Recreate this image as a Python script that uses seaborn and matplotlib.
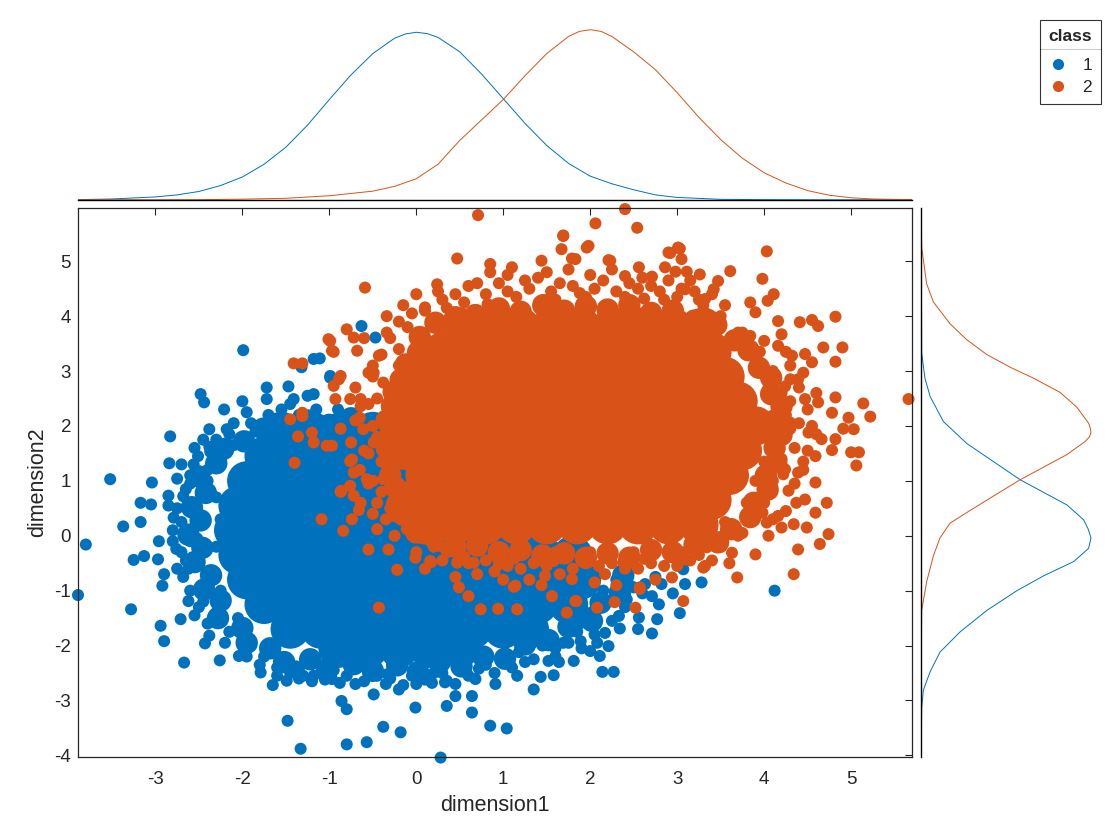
import matplotlib
matplotlib.use("Agg")
import matplotlib.pyplot as plt
from matplotlib.lines import Line2D
import seaborn as sns
import pandas as pd

# colours used by the original figure
blue = "#0072BD"
orange = "#D95319"

# ---- class 1: dense core (rows of y, x positions), its edge, scattered points ----
blue_core_rows = [
    (1.9, [-1.55, -1.2, -0.85, -0.5, -0.15, 0.2]),
    (1.45, [-1.75, -1.40, -1.05, -0.70, -0.35, 0.0, 0.35]),
    (1.0, [-1.95, -1.60, -1.25, -0.90, -0.55, -0.20, 0.15, 0.50]),
    (0.55, [-2.05, -1.70, -1.35, -1.00, -0.65, -0.30, 0.05, 0.40, 0.75]),
    (0.1, [-2.10, -1.75, -1.40, -1.05, -0.70, -0.35, 0.0, 0.35, 0.70, 1.05, 1.40]),
    (-0.35, [-2.05, -1.70, -1.35, -1.00, -0.65, -0.30, 0.05, 0.40, 0.75, 1.10, 1.45, 1.80]),
    (-0.8, [-1.95, -1.60, -1.25, -0.90, -0.55, -0.20, 0.15, 0.50, 0.85, 1.20, 1.55, 1.90]),
    (-1.25, [-1.75, -1.40, -1.05, -0.70, -0.35, 0.0, 0.35, 0.70, 1.05, 1.40, 1.75]),
    (-1.7, [-1.45, -1.10, -0.75, -0.40, -0.05, 0.30, 0.65, 1.00, 1.30]),
    (-2.05, [-0.9, -0.55, -0.2, 0.15, 0.5]),
]

blue_edge = [
    (-2.3, 1.32), (-2.5, 1.08), (-2.42, 0.78), (-2.58, 0.52), (-2.48, 0.28),
    (-2.62, 0.02), (-2.46, -0.22), (-2.55, -0.48), (-2.36, -0.72), (-2.44, -0.98),
    (-2.25, -1.18), (-2.28, -1.5), (-2.0, -1.68), (-1.95, -1.95), (-1.68, -2.05),
    (-1.52, -2.3), (-1.22, -2.25), (-1.02, -2.42), (-0.72, -2.34), (-0.5, -2.46),
    (-0.22, -2.36), (0.02, -2.48), (0.27, -2.3), (0.52, -2.38), (0.77, -2.2),
    (1.02, -2.24), (1.25, -1.98), (1.52, -1.9), (1.75, -1.66), (2.02, -1.55),
    (2.12, -1.22), (2.34, -1.04), (2.38, -0.72), (-2.22, 1.58), (-1.98, 1.72),
    (-1.76, 1.95), (-1.5, 1.98), (-1.25, 2.1), (-1.0, 2.02), (-0.75, 2.14),
]

blue_pts = [
    (-3.89, -1.08), (-3.80, -0.16), (-3.52, 1.03), (-3.37, 0.17), (-3.28, -1.34),
    (-3.25, -0.44), (-3.17, 0.60), (-3.17, 0.25), (-3.05, 0.57), (-3.04, 0.97),
    (-3.13, -0.37), (-2.97, -0.43), (-2.96, -0.10), (-2.94, -1.64), (-2.90, -1.92),
    (-2.67, -2.31), (-2.92, -0.91), (-2.83, 1.81), (-2.84, 1.32), (-2.85, 0.73),
    (-2.79, 0.33), (-2.75, 1.04), (-2.71, -1.52), (-2.62, -1.19), (-2.48, 2.58),
    (-2.44, 2.43), (-2.51, 1.45), (-2.56, 1.30), (-2.38, 1.94), (-2.37, 1.53),
    (-2.43, -1.96), (-2.26, -2.27), (-2.21, 2.30), (-2.18, 1.94), (-2.04, -2.19),
    (-1.99, 3.38), (-1.84, 2.00), (-1.72, 2.70), (-1.72, 2.49), (-1.64, 2.13),
    (-1.65, -2.72), (-1.49, -2.64), (-1.47, 2.72), (-1.48, -3.37), (-1.33, -3.88),
    (-1.41, 2.49), (-1.18, 3.22), (-1.11, 3.23), (-0.99, 2.88), (-1.30, -2.55),
    (-1.18, -2.55), (-0.97, -2.61), (-0.86, -3.01), (-0.80, -3.16), (-0.80, -3.80),
    (-0.57, -3.76), (-0.49, -2.89), (-0.38, -3.48), (-0.18, -3.58), (-0.01, -3.13),
    (0.28, -4.04), (0.33, -2.67), (0.35, -3.10), (0.45, -2.92), (0.64, -2.92),
    (0.64, -3.22), (0.85, -3.46), (1.04, -3.51), (0.35, -2.64), (0.68, -2.61),
    (0.91, -2.70), (1.16, -2.55), (1.35, -2.80), (1.43, -2.57), (1.58, -2.54),
    (1.52, -2.28), (1.64, -2.30), (1.81, -2.28), (1.69, -1.95), (1.89, -1.92),
    (2.00, -2.10), (2.11, -2.19), (2.21, -2.01), (2.14, -2.48), (2.27, -2.48),
    (2.08, -1.95), (2.17, -1.77), (2.34, -1.69), (1.87, -1.61), (2.06, -1.61),
    (2.33, -1.46), (2.56, -1.49), (2.71, -1.78), (2.77, -1.52), (2.79, -1.25),
    (2.42, -1.16), (2.50, -0.94), (2.63, -0.88), (2.82, -0.88), (2.71, -1.10),
    (3.03, -1.41), (3.09, -0.88), (3.28, -0.85), (3.07, -0.61), (4.12, -1.00),
    (-0.63, 3.82), (-0.47, 3.61), (-1.32, 3.07), (-0.99, 2.91), (-1.18, 2.58),
    (-2.45, 0.9), (-2.55, 0.4), (-2.6, -0.1), (-2.5, -0.5), (-2.4, -0.8),
    (-2.45, -1.2), (-2.3, -1.4), (-2.15, -1.75), (-1.9, -2.0), (-1.75, -2.2),
    (-1.6, -2.4), (-1.35, -2.45), (-1.1, -2.5), (-0.8, -2.55), (-0.55, -2.5),
    (-0.3, -2.6), (-0.05, -2.55), (0.2, -2.5), (0.5, -2.45), (0.8, -2.35),
    (1.05, -2.2), (1.25, -2.3), (-2.3, 1.4), (-2.1, 1.65), (-1.85, 1.9),
    (-1.6, 2.0), (-1.35, 2.2), (-1.1, 2.1), (-0.9, 2.3), (-2.65, 0.0),
    (-2.75, -0.6), (-2.68, -0.75), (-2.55, -1.45), (-2.4, -1.6), (-2.6, 1.1),
    (-2.4, 1.0), (-2.3, 1.75), (-2.1, 2.05), (-1.9, 2.05), (-1.55, 2.3),
    (-1.25, 2.55), (-1.79, -2.49), (-1.6, -2.55), (-1.35, -2.6), (-1.05, -2.62),
    (-0.6, -2.65), (-0.35, -2.7), (-0.15, -2.72), (0.1, -2.62), (1.45, -2.0),
    (1.7, -1.7), (1.95, -1.4), (2.2, -1.2), (2.3, -0.8), (2.15, -1.0),
    (1.6, -2.05), (1.85, -1.75), (2.05, -1.35), (-2.25, 0.3), (-2.3, -0.2),
    (-2.3, 0.7), (-2.25, -1.0), (-2.05, -1.5), (-2.6, 0.6), (-2.7, 0.25),
    (-2.75, 0.5), (-2.7, -0.3), (-2.8, -0.1), (-2.65, 0.85), (-2.85, 0.55),
    (-2.6, -1.0), (-2.5, -1.3), (-2.8, 0.1), (-2.7, 1.3), (-2.55, 1.6),
    (-2.4, 1.2), (-2.65, -0.45), (-2.9, -0.7), (-1.95, -2.2), (-1.8, -2.35),
    (-1.45, -2.5), (-1.2, -2.65), (-0.95, -2.45), (-0.7, -2.7), (-0.45, -2.55),
    (-0.2, -2.8), (0.0, -2.7), (0.3, -2.5), (0.6, -2.55), (0.9, -2.5),
    (1.1, -2.4), (1.35, -2.25), (0.45, -2.7), (-2.15, 1.85), (-1.95, 2.25),
    (-1.7, 2.2), (-1.45, 2.4), (-1.15, 2.3), (-2.45, 1.75), (-2.0, 2.45),
    (1.6, -2.2), (1.9, -2.05), (2.05, -1.8), (2.25, -1.55), (2.4, -1.3),
    (2.6, -1.05), (2.45, -0.9), (2.75, -0.75), (2.95, -1.05), (2.55, -1.7),
    (1.75, -1.95), (-2.68, 0.72), (-2.52, -0.05), (-2.62, -0.6), (-2.38, -1.82),
    (-2.2, -1.95), (-1.38, -2.38), (-0.88, -2.68), (-0.33, -2.52), (0.18, -2.68),
    (0.72, -2.42), (1.18, -2.12), (-2.38, 1.62), (-2.6, 0.95), (-2.76, -0.24),
]

# ---- class 2 ----
orange_core_rows = [
    (3.8, [0.5, 0.85, 1.20, 1.55, 1.90, 2.25, 2.60, 2.95, 3.3]),
    (3.35, [0.3, 0.65, 1.0, 1.35, 1.7, 2.05, 2.4, 2.75, 3.1, 3.4]),
    (2.9, [0.1, 0.45, 0.8, 1.15, 1.5, 1.85, 2.2, 2.55, 2.9, 3.25, 3.55]),
    (2.45, [-0.1, 0.25, 0.60, 0.95, 1.30, 1.65, 2.00, 2.35, 2.70, 3.05, 3.40, 3.70]),
    (2.0, [-0.2, 0.1, 0.45, 0.8, 1.15, 1.5, 1.85, 2.2, 2.55, 2.9, 3.25, 3.6, 3.9]),
    (1.55, [-0.1, 0.25, 0.60, 0.95, 1.30, 1.65, 2.00, 2.35, 2.70, 3.05, 3.40, 3.75]),
    (1.1, [0.1, 0.45, 0.8, 1.15, 1.5, 1.85, 2.2, 2.55, 2.9, 3.25, 3.6]),
    (0.65, [-0.05, 0.25, 0.60, 0.95, 1.30, 1.65, 2.00, 2.35, 2.70, 3.05, 3.40]),
    (0.2, [0.1, 0.45, 0.8, 1.15, 1.5, 1.85, 2.2, 2.55, 2.9, 3.25]),
]

orange_edge = [
    (0.22, 3.88), (0.45, 3.98), (0.68, 4.02), (0.95, 4.14), (1.2, 4.08),
    (1.46, 4.2), (1.7, 4.1), (1.95, 4.18), (2.2, 4.12), (2.45, 4.2),
    (2.7, 4.06), (2.95, 4.1), (3.2, 3.92), (3.45, 3.84), (3.66, 3.56),
    (3.82, 3.38), (3.94, 3.06), (4.08, 2.88), (4.08, 2.58), (4.2, 2.36),
    (4.12, 2.1), (4.2, 1.84), (4.12, 1.6), (4.14, 1.34), (4.02, 1.1),
    (4.04, 0.84), (3.88, 0.6), (3.84, 0.34), (3.62, 0.12), (3.47, -0.12),
    (3.2, -0.16), (2.95, -0.3), (2.7, -0.26), (2.45, -0.4), (2.2, -0.32),
    (1.95, -0.4), (1.7, -0.32), (1.45, -0.36), (1.2, -0.26), (0.95, -0.3),
    (0.7, -0.18), (0.45, -0.2), (0.2, -0.02), (0.0, 0.06), (-0.15, 0.38),
    (-0.22, 0.58), (-0.24, 0.88), (-0.3, 1.1), (-0.26, 1.36), (-0.34, 1.6),
    (-0.28, 1.84), (-0.34, 2.1), (-0.28, 2.36), (-0.26, 2.62), (-0.18, 2.84),
    (-0.12, 3.12), (0.02, 3.34), (0.04, 3.62),
]

orange_pts = [
    (0.71, 5.84), (2.40, 5.95), (2.54, 5.61), (2.06, 5.69), (1.69, 5.47),
    (1.67, 5.22), (1.96, 5.25), (0.47, 5.05), (3.01, 5.25), (2.92, 5.15),
    (3.05, 5.04), (-0.59, 4.52), (0.85, 4.95), (1.10, 4.89), (1.44, 5.01),
    (1.83, 5.04), (2.23, 5.01), (2.56, 4.89), (2.86, 4.89), (3.26, 4.76),
    (0.24, 4.58), (-0.15, 4.20), (-0.34, 4.00), (0.10, 4.16), (-0.80, 3.76),
    (-1.01, 3.58), (-0.97, 3.37), (-0.72, 3.61), (-1.31, 3.14), (-0.34, 3.70),
    (-0.43, 3.28), (-0.68, 3.37), (-0.89, 2.85), (-0.55, 2.97), (-0.93, 2.49),
    (-0.64, 2.49), (-1.31, 2.24), (-1.20, 1.88), (-0.87, 1.95), (-0.97, 1.64),
    (-0.74, 1.39), (-0.86, 0.82), (-0.72, 0.73), (-1.09, 0.30), (-0.84, 0.09),
    (-0.45, 0.12), (-0.55, -0.25), (-0.32, -0.25), (-0.22, -0.62), (-0.01, -0.40),
    (0.16, -0.46), (-0.43, -1.31), (0.49, -0.94), (0.60, -1.10), (0.74, -1.34),
    (0.94, -1.33), (1.16, -1.34), (0.95, -0.52), (1.14, -0.91), (1.56, -1.10),
    (1.83, -1.19), (2.08, -1.31), (1.73, -1.40), (3.07, -1.19), (3.32, -0.55),
    (2.57, -0.94), (2.52, -1.31), (4.03, 5.18), (3.98, 4.68), (3.61, 4.82),
    (4.11, 4.40), (4.04, 4.28), (3.84, 4.25), (3.90, 4.07), (4.16, 3.91),
    (4.41, 3.89), (4.55, 3.93), (4.62, 3.82), (4.82, 3.99), (4.20, 3.67),
    (4.68, 3.43), (4.90, 3.43), (4.82, 3.17), (4.47, 3.31), (4.55, 3.16),
    (4.39, 2.85), (4.82, 2.52), (5.14, 2.41), (5.22, 2.17), (5.66, 2.49),
    (4.97, 2.15), (5.03, 1.94), (4.91, 1.95), (4.78, 2.24), (4.62, 2.43),
    (4.82, 1.76), (4.78, 1.56), (5.00, 1.52), (5.09, 1.52), (5.06, 1.28),
    (4.59, 1.45), (4.66, 1.76), (4.59, 0.97), (4.72, 0.60), (4.59, 0.42),
    (4.49, 0.15), (4.74, 0.03), (4.64, -0.15), (4.34, 0.21), (4.39, -0.25),
    (4.34, -0.70), (3.90, -0.34), (3.69, -0.76), (3.63, -0.31), (4.03, 0.24),
    (4.16, 0.36), (3.95, 0.70), (4.09, 0.79), (4.28, 0.82), (4.37, 0.60),
    (4.47, 0.66), (4.24, 1.21), (4.39, 1.15), (4.51, 1.88), (4.47, 2.49),
    (4.32, 3.28), (4.45, 2.97), (4.16, 3.46), (3.84, 3.64), (3.47, 4.64),
    (3.42, 4.49), (3.32, 4.31), (3.09, 4.49), (2.90, 5.16), (3.03, 5.23),
    (2.71, 4.72), (2.40, 4.73), (2.98, 4.81), (3.11, 4.81), (2.21, 5.02),
    (1.98, 5.28), (1.79, 5.05), (1.69, 5.46), (-1.41, 3.14), (-1.45, 2.12),
    (-1.31, 2.18), (-1.36, 1.81), (-1.40, 1.33), (-0.99, 3.55), (-0.95, 3.35),
    (-1.18, 1.70), (-1.03, 1.64), (-0.76, 1.36), (-0.87, 0.80), (-0.76, 0.91),
    (-0.66, 0.47), (-0.74, 0.30), (0.17, -0.48), (1.12, -0.93), (1.84, -1.19),
    (2.28, -1.21), (2.57, -0.97), (3.30, -0.58), (3.34, -0.21), (2.94, -0.76),
    (1.48, -0.73), (1.79, -0.79), (2.17, -0.70), (3.09, -0.43), (1.44, -0.90),
    (-0.95, 2.73), (-0.87, 2.91), (-0.76, 2.49), (-0.64, 2.36), (-0.49, 2.97),
    (-0.38, 2.79), (-0.61, 1.94), (-0.49, 1.70), (-0.72, 1.15), (-0.57, 1.03),
    (-0.64, 0.60), (-0.26, 0.36), (-0.11, 0.12), (0.12, 0.0), (0.28, -0.19),
    (0.47, -0.49), (0.66, -0.49), (-0.38, 1.03),
    (0.3, 4.3), (0.55, 4.25), (0.8, 4.4), (1.05, 4.45), (1.3, 4.5),
    (1.55, 4.45), (1.8, 4.55), (2.05, 4.5), (2.3, 4.45), (2.55, 4.5),
    (2.8, 4.45), (3.05, 4.5), (3.25, 4.3), (0.6, 4.55), (1.4, 4.7),
    (2.0, 4.75), (2.6, 4.7), (3.15, 4.65), (0.1, 4.1), (-0.1, 3.8),
    (0.0, 4.4), (0.4, 4.05), (0.6, 4.0), (3.5, 4.0), (3.3, 4.2), (3.7, 3.7),
    (-0.4, 3.3), (-0.5, 2.9), (-0.55, 2.4), (-0.5, 2.0), (-0.55, 1.5),
    (-0.5, 1.0), (-0.45, 0.6), (-0.35, 0.3), (-0.25, 0.0), (-0.7, 2.1),
    (-0.75, 1.7), (-0.65, 1.2), (-0.3, 3.6), (-0.2, 3.9), (-0.2, 3.1),
    (-0.3, 2.6), (-0.35, 1.75), (-0.3, 1.2), (-0.25, 0.75), (0.0, 3.4),
    (-0.1, 0.35), (-0.25, 2.2), (0.0, -0.3), (0.3, -0.45), (0.6, -0.5),
    (0.9, -0.65), (1.2, -0.6), (1.5, -0.55), (1.8, -0.6), (2.1, -0.55),
    (2.4, -0.6), (2.7, -0.5), (3.0, -0.55), (3.25, -0.35), (3.5, -0.2),
    (0.45, -0.75), (1.3, -0.8), (2.3, -0.9), (2.75, -0.8), (0.2, -0.2),
    (0.7, -0.25), (1.0, -0.3), (1.6, -0.3), (2.0, -0.3), (2.5, -0.3),
    (2.9, -0.3), (3.3, -0.05), (3.55, 0.25), (3.7, 0.0), (3.85, 0.3),
    (4.0, 0.6), (4.1, 1.0), (4.2, 1.4), (4.25, 1.8), (4.25, 2.2),
    (4.2, 2.6), (4.1, 3.0), (3.95, 3.35), (3.75, 3.7), (4.35, 1.6),
    (4.4, 2.05), (4.3, 2.45), (4.05, 0.0), (4.45, 1.2), (3.8, 0.6),
    (3.9, 1.0), (4.0, 1.35), (4.05, 2.7), (3.9, 3.1), (3.75, 0.05),
    (0.25, 4.45), (0.45, 4.4), (0.7, 4.6), (0.95, 4.6), (1.15, 4.35),
    (1.25, 4.65), (1.5, 4.8), (1.65, 4.6), (1.75, 4.85), (1.95, 4.35),
    (2.15, 4.65), (2.25, 4.85), (2.45, 4.6), (2.7, 4.55), (2.9, 4.65),
    (3.0, 4.35), (3.2, 4.45), (3.4, 4.4), (3.55, 4.2), (0.85, 4.8),
    (1.05, 4.75), (2.4, 4.35), (2.85, 4.3), (1.6, 4.3), (0.35, 4.15),
    (-0.05, 4.05), (4.3, 3.1), (4.4, 2.7), (4.5, 2.3), (4.55, 2.0),
    (4.5, 1.55), (4.45, 1.35), (4.35, 0.95), (4.25, 0.45), (4.1, 0.3),
    (4.6, 1.85), (4.3, 2.85), (4.0, 3.55), (4.25, 3.35), (4.6, 2.6),
    (4.3, 1.95), (4.2, 0.15), (-0.5, 3.1), (-0.7, 2.7), (-0.45, 2.5),
    (-0.65, 2.15), (-0.45, 1.8), (-0.6, 1.55), (-0.4, 1.35), (-0.55, 0.95),
    (-0.4, 0.8), (-0.5, 0.4), (-0.3, 0.5), (-0.2, 3.4), (-0.6, 3.6),
    (0.1, -0.6), (0.35, -0.3), (0.8, -0.45), (1.05, -0.55), (1.35, -0.5),
    (1.65, -0.7), (1.95, -0.5), (2.25, -0.5), (2.55, -0.6), (2.85, -0.55),
    (3.15, -0.45), (3.4, -0.45), (2.05, -0.85), (1.0, -0.8), (0.7, -0.7),
    (3.6, -0.5), (0.55, -0.38), (1.12, -0.42), (1.58, -0.46), (2.38, -0.48),
    (2.62, -0.42), (3.08, -0.3), (3.52, -0.02), (3.98, 0.42), (4.22, 1.12),
    (4.3, 2.06), (4.24, 2.72), (0.82, 4.22), (1.88, 4.42), (2.62, 4.32),
]

# ---- marginal density curves (peak ~1) ----
top_blue_x = [-3.89, -3.5, -3.0, -2.75, -2.5, -2.25, -2.0, -1.75, -1.5, -1.25, -1.0,
              -0.75, -0.5, -0.25, -0.125, 0.0, 0.125, 0.25, 0.5, 0.75, 1.0, 1.25, 1.5,
              1.75, 2.0, 2.25, 2.5, 2.75, 3.0, 3.5, 4.0, 5.0, 5.7]
top_blue_d = [0.002, 0.006, 0.018, 0.03, 0.05, 0.085, 0.135, 0.21, 0.31, 0.44, 0.59,
              0.735, 0.86, 0.95, 0.975, 0.985, 0.977, 0.955, 0.87, 0.74, 0.595, 0.45,
              0.32, 0.215, 0.14, 0.095, 0.06, 0.03, 0.015, 0.004, 0.002, 0.001, 0.001]
top_orange_x = [-3.89, -2.5, -2.0, -1.5, -1.0, -0.5, -0.25, 0.0, 0.25, 0.5, 0.75, 1.0,
                1.25, 1.5, 1.75, 1.875, 2.0, 2.125, 2.25, 2.5, 2.75, 3.0, 3.25, 3.5,
                3.75, 4.0, 4.25, 4.5, 4.75, 5.0, 5.25, 5.7]
top_orange_d = [0.001, 0.002, 0.005, 0.01, 0.025, 0.052, 0.08, 0.125, 0.21, 0.35, 0.47,
                0.59, 0.73, 0.86, 0.96, 0.99, 1.0, 0.99, 0.96, 0.87, 0.765, 0.63, 0.485,
                0.355, 0.245, 0.16, 0.1, 0.055, 0.028, 0.013, 0.006, 0.002]

right_blue_y = [-4.03, -3.14, -2.81, -2.48, -2.12, -1.75, -1.36, -1.0, -0.73, -0.47,
                -0.23, -0.04, 0.12, 0.29, 0.56, 0.79, 1.02, 1.35, 1.68, 2.08, 2.54,
                2.87, 3.33, 5.96]
right_blue_d = [0.001, 0.004, 0.014, 0.053, 0.111, 0.229, 0.385, 0.561, 0.717, 0.893,
                0.98, 0.994, 0.978, 0.951, 0.854, 0.717, 0.58, 0.424, 0.268, 0.131,
                0.053, 0.023, 0.004, 0.001]
right_orange_y = [-4.03, -2.0, -1.36, -0.84, -0.37, -0.04, 0.23, 0.46, 0.76, 1.02,
                  1.25, 1.48, 1.72, 1.80, 1.88, 1.96, 2.05, 2.34, 2.61, 2.87, 3.07,
                  3.30, 3.57, 3.86, 4.26, 4.59, 5.25, 5.96]
right_orange_d = [0.001, 0.002, 0.004, 0.033, 0.072, 0.111, 0.17, 0.287, 0.443, 0.58,
                  0.717, 0.854, 0.961, 0.985, 0.994, 0.99, 0.98, 0.912, 0.814, 0.658,
                  0.521, 0.385, 0.268, 0.17, 0.072, 0.033, 0.004, 0.001]


def rows_frame(rows, cls):
    xs, ys = [], []
    for y, row in rows:
        for x in row:
            xs.append(x)
            ys.append(y)
    return pd.DataFrame({"dimension1": xs, "dimension2": ys, "class": cls, "kind": "core"})


def pts_frame(pts, cls, kind):
    return pd.DataFrame({"dimension1": [p[0] for p in pts],
                         "dimension2": [p[1] for p in pts],
                         "class": cls, "kind": kind})


# drawing order: class 1 first, class 2 on top (as in the original)
df = pd.concat([rows_frame(blue_core_rows, "1"), pts_frame(blue_edge, "1", "edge"),
                pts_frame(blue_pts, "1", "dot"),
                rows_frame(orange_core_rows, "2"), pts_frame(orange_edge, "2", "edge"),
                pts_frame(orange_pts, "2", "dot")],
               ignore_index=True)

sns.set_style("white")
plt.rcParams["font.family"] = ["Liberation Sans", "DejaVu Sans"]
plt.rcParams["axes.unicode_minus"] = False

W, H = 1120, 840
fig = plt.figure(figsize=(W / 100, H / 100), dpi=100)
ax = fig.add_axes([78 / W, 1 - 757 / H, 834 / W, 549 / H])
ax_top = fig.add_axes([78 / W, 1 - 200 / H, 834 / W, 172 / H])
ax_right = fig.add_axes([921 / W, 1 - 757 / H, 171 / W, 549 / H])

pal = {"1": blue, "2": orange}
sns.scatterplot(data=df, x="dimension1", y="dimension2", hue="class", size="kind",
                sizes={"core": 800, "edge": 260, "dot": 75}, palette=pal, linewidth=0,
                legend=False, clip_on=False, ax=ax)

xlim = (-3.89, 5.70)
ylim = (-4.03, 5.97)
ax.set_xlim(*xlim)
ax.set_ylim(*ylim)
ax.set_xticks(range(-3, 6))
ax.set_yticks(range(-4, 6))
axis_col = "#262626"
for s in ax.spines.values():
    s.set_visible(True)
    s.set_color(axis_col)
    s.set_linewidth(0.9)
ax.tick_params(direction="in", top=True, right=True, length=5, width=0.8,
               colors=axis_col, labelsize=13.5)
ax.tick_params(axis="x", pad=10)
ax.tick_params(axis="y", pad=5)
ax.set_xlabel("dimension1", fontsize=15.5, color=axis_col, labelpad=5)
ax.set_ylabel("dimension2", fontsize=15.5, color=axis_col, labelpad=4)

# top marginal
sns.lineplot(x=top_blue_x, y=top_blue_d, color=blue, lw=0.7, sort=False,
             estimator=None, ax=ax_top)
sns.lineplot(x=top_orange_x, y=top_orange_d, color=orange, lw=0.7, sort=False,
             estimator=None, ax=ax_top)
ax_top.set_xlim(*xlim)
ax_top.set_ylim(0, 1.01)
ax_top.set_xticks([])
ax_top.set_yticks([])
for k, s in ax_top.spines.items():
    s.set_visible(k == "bottom")
ax_top.spines["bottom"].set_color("black")
ax_top.spines["bottom"].set_linewidth(1.0)
ax_top.patch.set_alpha(0)

# right marginal
sns.lineplot(x=right_blue_d, y=right_blue_y, color=blue, lw=0.7, sort=False,
             estimator=None, ax=ax_right)
sns.lineplot(x=right_orange_d, y=right_orange_y, color=orange, lw=0.7, sort=False,
             estimator=None, ax=ax_right)
ax_right.set_ylim(*ylim)
ax_right.set_xlim(0, 1.0)
ax_right.set_xticks([])
ax_right.set_yticks([])
for k, s in ax_right.spines.items():
    s.set_visible(k == "left")
ax_right.spines["left"].set_color("black")
ax_right.spines["left"].set_linewidth(1.0)
ax_right.patch.set_alpha(0)

# legend
handles = [Line2D([], [], ls="", marker="o", markersize=8, color=pal[c],
                  markeredgewidth=0) for c in ["1", "2"]]
leg = fig.legend(handles, ["1", "2"], title="class", loc="upper right",
                 bbox_to_anchor=(1101 / W, 1 - 20 / H), frameon=True, fancybox=False,
                 edgecolor="black", fontsize=12.5, handlelength=1.0,
                 handletextpad=0.9, borderpad=0.5, labelspacing=0.4,
                 borderaxespad=0, title_fontproperties={"weight": "bold", "size": 12.5})
leg.get_frame().set_linewidth(0.8)
# a bit more room between the title and the entries, like the original
leg._legend_box.sep = 10

fig.canvas.draw()
tb = leg.get_title().get_window_extent()
fb = leg.get_frame().get_window_extent()
inv = fig.transFigure.inverted()
(x0, yl), (x1, _) = inv.transform([(fb.x0, tb.y0 - 5), (fb.x1, tb.y0 - 5)])
fig.add_artist(Line2D([x0, x1], [yl, yl], color="black", lw=0.8))

fig.savefig("out.png", dpi=100)
